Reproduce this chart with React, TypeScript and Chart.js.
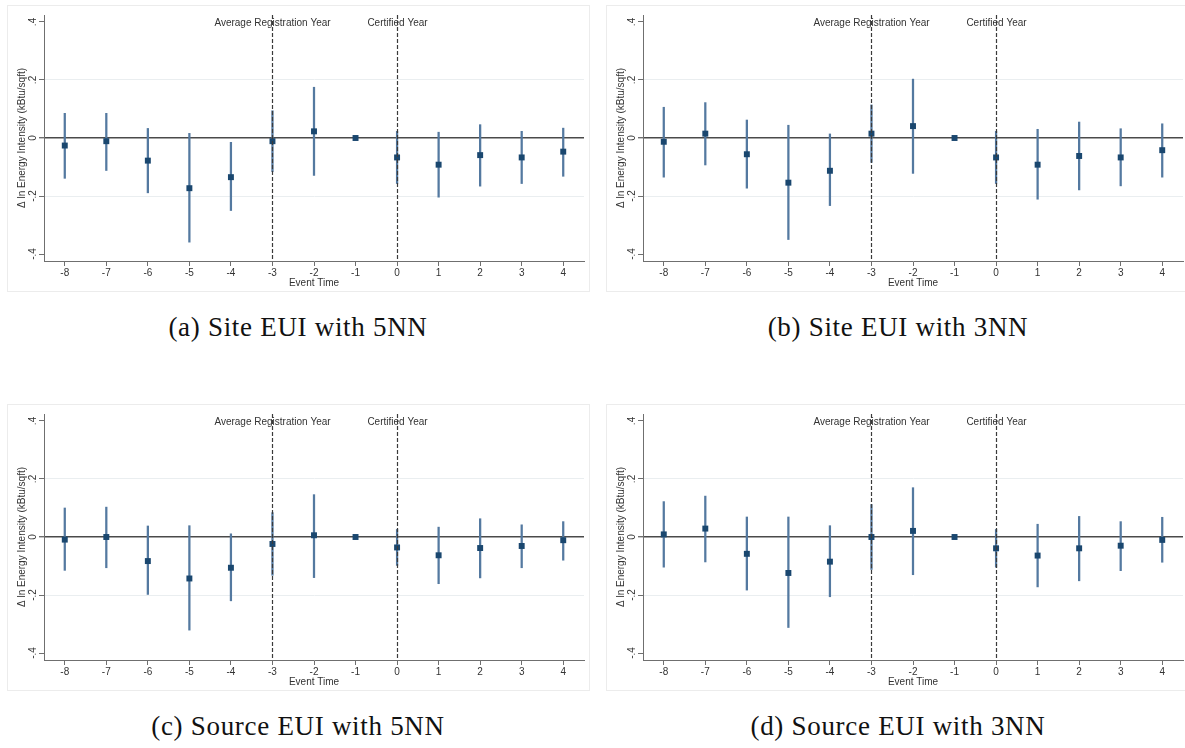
import React, { useEffect, useRef } from 'react';
import { Chart, registerables } from 'chart.js';

Chart.register(...registerables);

// ---------- data ----------
const eventTime = [-8, -7, -6, -5, -4, -3, -2, -1, 0, 1, 2, 3, 4];
const xTicks = [-8, -7, -6, -5, -4, -3, -2, -1, 0, 1, 2, 3, 4];
const yTickValues = [-0.4, -0.2, 0, 0.2, 0.4];
const yTickLabels = ['-.4', '-.2', '0', '.2', '.4'];
const eventLines = [-3, 0];
const eventLabels = ['Average Registration Year', 'Certified Year'];

// (a) Site EUI with 5NN
const siteEUI5NNCoef = [-0.026, -0.011, -0.078, -0.173, -0.135, -0.011, 0.023, 0, -0.067, -0.092, -0.059, -0.067, -0.047];
const siteEUI5NNLow = [-0.139, -0.112, -0.189, -0.359, -0.25, -0.116, -0.129, null, -0.157, -0.204, -0.166, -0.157, -0.132];
const siteEUI5NNHigh = [0.085, 0.085, 0.033, 0.016, -0.015, 0.094, 0.175, null, 0.023, 0.02, 0.046, 0.023, 0.034];

// (b) Site EUI with 3NN
const siteEUI3NNCoef = [-0.013, 0.015, -0.056, -0.154, -0.113, 0.015, 0.041, 0, -0.067, -0.092, -0.062, -0.067, -0.042];
const siteEUI3NNLow = [-0.135, -0.093, -0.173, -0.35, -0.233, -0.084, -0.122, null, -0.157, -0.211, -0.179, -0.165, -0.135];
const siteEUI3NNHigh = [0.106, 0.122, 0.062, 0.044, 0.014, 0.114, 0.203, null, 0.023, 0.03, 0.055, 0.032, 0.049];

// (c) Source EUI with 5NN
const sourceEUI5NNCoef = [-0.009, 0.0, -0.083, -0.143, -0.106, -0.024, 0.006, 0, -0.036, -0.063, -0.038, -0.031, -0.011];
const sourceEUI5NNLow = [-0.115, -0.106, -0.198, -0.321, -0.22, -0.132, -0.14, null, -0.098, -0.161, -0.141, -0.106, -0.08];
const sourceEUI5NNHigh = [0.1, 0.103, 0.038, 0.039, 0.011, 0.084, 0.146, null, 0.026, 0.034, 0.063, 0.042, 0.053];

// (d) Source EUI with 3NN
const sourceEUI3NNCoef = [0.009, 0.029, -0.058, -0.124, -0.085, 0.0, 0.021, 0, -0.039, -0.064, -0.039, -0.03, -0.01];
const sourceEUI3NNLow = [-0.104, -0.086, -0.183, -0.312, -0.206, -0.112, -0.13, null, -0.104, -0.172, -0.151, -0.116, -0.087];
const sourceEUI3NNHigh = [0.122, 0.141, 0.069, 0.069, 0.039, 0.112, 0.17, null, 0.026, 0.044, 0.071, 0.053, 0.068];

const captions = [
  '(a) Site EUI with 5NN',
  '(b) Site EUI with 3NN',
  '(c) Source EUI with 5NN',
  '(d) Source EUI with 3NN',
];

// ---------- styles ----------
const SANS = '"Liberation Sans", Arial, Helvetica, sans-serif';
const NAVY = '#1a476f';
const CI_COLOR = '#5479a0';
const AXIS_COLOR = '#6f6f6f';
const TEXT_COLOR = '#333333';
const PANEL_W = 583;
const PANEL_H = 287;

const eventLinePlugin = {
  id: 'eventLines',
  afterDatasetsDraw(chart: any) {
    const { ctx, chartArea, scales } = chart;
    const x = scales.x;
    ctx.save();
    eventLines.forEach((v, i) => {
      const px = Math.round(x.getPixelForValue(v)) + 0.5;
      ctx.fillStyle = TEXT_COLOR;
      ctx.font = '10px ' + SANS;
      ctx.textAlign = 'center';
      ctx.textBaseline = 'middle';
      ctx.fillText(eventLabels[i], px, chartArea.top + 8);
      ctx.strokeStyle = '#3a3a3a';
      ctx.lineWidth = 1.2;
      ctx.setLineDash([4, 2]);
      ctx.beginPath();
      ctx.moveTo(px, chartArea.top);
      ctx.lineTo(px, chartArea.bottom);
      ctx.stroke();
    });
    ctx.restore();
  },
};

function Panel(props: { coef: number[]; low: (number | null)[]; high: (number | null)[]; left: number; top: number }) {
  const ref = useRef<HTMLCanvasElement | null>(null);
  const { coef, low, high, left, top } = props;

  useEffect(() => {
    if (!ref.current) return;
    const ciData = eventTime
      .map((t, i) => (low[i] == null || high[i] == null ? null : { x: t, y: [low[i], high[i]] }))
      .filter((d) => d !== null);
    const pointData = eventTime.map((t, i) => ({ x: t, y: coef[i] }));

    const chart = new Chart(ref.current, {
      type: 'bar',
      data: {
        datasets: [
          {
            type: 'scatter',
            data: pointData as any,
            pointStyle: 'rect',
            pointRadius: 4.2,
            pointHoverRadius: 4.2,
            backgroundColor: NAVY,
            borderColor: NAVY,
            borderWidth: 0,
            showLine: false,
            order: 0,
          } as any,
          {
            type: 'bar',
            data: ciData as any,
            backgroundColor: CI_COLOR,
            borderWidth: 0,
            barThickness: 1.6,
            order: 1,
          } as any,
        ],
      },
      plugins: [eventLinePlugin],
      options: {
        animation: false,
        responsive: false,
        events: [],
        layout: { padding: { left: 0, right: 6, top: 10, bottom: 0 } },
        plugins: { legend: { display: false }, tooltip: { enabled: false } },
        scales: {
          x: {
            type: 'linear',
            min: -8.5,
            max: 4.5,
            offset: false,
            afterBuildTicks: (scale: any) => {
              scale.ticks = xTicks.map((v) => ({ value: v }));
            },
            afterFit: (scale: any) => {
              scale.height = 31;
            },
            ticks: {
              color: TEXT_COLOR,
              font: { family: SANS, size: 10 },
              padding: 1,
              maxRotation: 0,
              minRotation: 0,
              autoSkip: false,
              callback: (v: any) => String(v),
            },
            grid: {
              display: true,
              drawOnChartArea: false,
              drawTicks: true,
              tickLength: 5,
              tickColor: AXIS_COLOR,
              offset: false,
            },
            border: { display: true, color: AXIS_COLOR, width: 1 },
            title: {
              display: true,
              text: 'Event Time',
              color: TEXT_COLOR,
              font: { family: SANS, size: 10, lineHeight: 1.2 },
              padding: { top: 0, bottom: 3 },
            },
          },
          y: {
            type: 'linear',
            min: -0.424,
            max: 0.424,
            afterBuildTicks: (scale: any) => {
              scale.ticks = yTickValues.map((v) => ({ value: v }));
            },
            afterFit: (scale: any) => {
              scale.width = 37;
            },
            ticks: {
              color: TEXT_COLOR,
              font: { family: SANS, size: 10 },
              padding: 0,
              minRotation: 90,
              maxRotation: 90,
              crossAlign: 'center',
              autoSkip: false,
              callback: (_v: any, i: number) => yTickLabels[i],
            },
            grid: {
              display: true,
              drawOnChartArea: true,
              drawTicks: true,
              tickLength: 5,
              tickColor: AXIS_COLOR,
              color: (c: any) => {
                const v = c.tick ? c.tick.value : null;
                if (v === 0) return '#4a4a4a';
                if (v !== null && Math.abs(Math.abs(v) - 0.2) < 1e-9) return '#eaeef0';
                return 'rgba(0,0,0,0)';
              },
              lineWidth: (c: any) => (c.tick && c.tick.value === 0 ? 1.4 : 1),
            },
            border: { display: true, color: AXIS_COLOR, width: 1 },
            title: {
              display: true,
              text: 'Δ ln Energy Intensity (kBtu/sqft)',
              color: TEXT_COLOR,
              font: { family: SANS, size: 10, lineHeight: 1.2 },
              padding: { top: 9, bottom: 0 },
            },
          },
        },
      } as any,
    });
    return () => chart.destroy();
  }, [coef, low, high]);

  return (
    <div
      style={{
        position: 'absolute',
        left,
        top,
        width: PANEL_W,
        height: PANEL_H,
        boxSizing: 'border-box',
        border: '1px solid #ececec',
        background: '#ffffff',
      }}
    >
      <canvas
        ref={ref}
        width={PANEL_W}
        height={PANEL_H}
        style={{ position: 'absolute', left: -1, top: -1, width: PANEL_W, height: PANEL_H }}
      />
    </div>
  );
}

function Caption(props: { text: string; center: number; top: number }) {
  return (
    <div
      style={{
        position: 'absolute',
        left: props.center - 250,
        top: props.top,
        width: 500,
        textAlign: 'center',
        fontFamily: '"Liberation Serif", "Times New Roman", serif',
        fontSize: 27,
        lineHeight: '27px',
        letterSpacing: '0.7px',
        color: '#111',
        whiteSpace: 'nowrap',
      }}
    >
      {props.text}
    </div>
  );
}

export default function App() {
  return (
    <div
      style={{
        position: 'fixed',
        left: 0,
        top: 0,
        width: 1185,
        height: 748,
        background: '#ffffff',
        overflow: 'hidden',
      }}
    >
      <Panel coef={siteEUI5NNCoef} low={siteEUI5NNLow} high={siteEUI5NNHigh} left={7} top={5} />
      <Panel coef={siteEUI3NNCoef} low={siteEUI3NNLow} high={siteEUI3NNHigh} left={606} top={5} />
      <Panel coef={sourceEUI5NNCoef} low={sourceEUI5NNLow} high={sourceEUI5NNHigh} left={7} top={404} />
      <Panel coef={sourceEUI3NNCoef} low={sourceEUI3NNLow} high={sourceEUI3NNHigh} left={606} top={404} />
      <Caption text={captions[0]} center={298} top={314} />
      <Caption text={captions[1]} center={898} top={314} />
      <Caption text={captions[2]} center={298} top={713} />
      <Caption text={captions[3]} center={898} top={713} />
    </div>
  );
}
